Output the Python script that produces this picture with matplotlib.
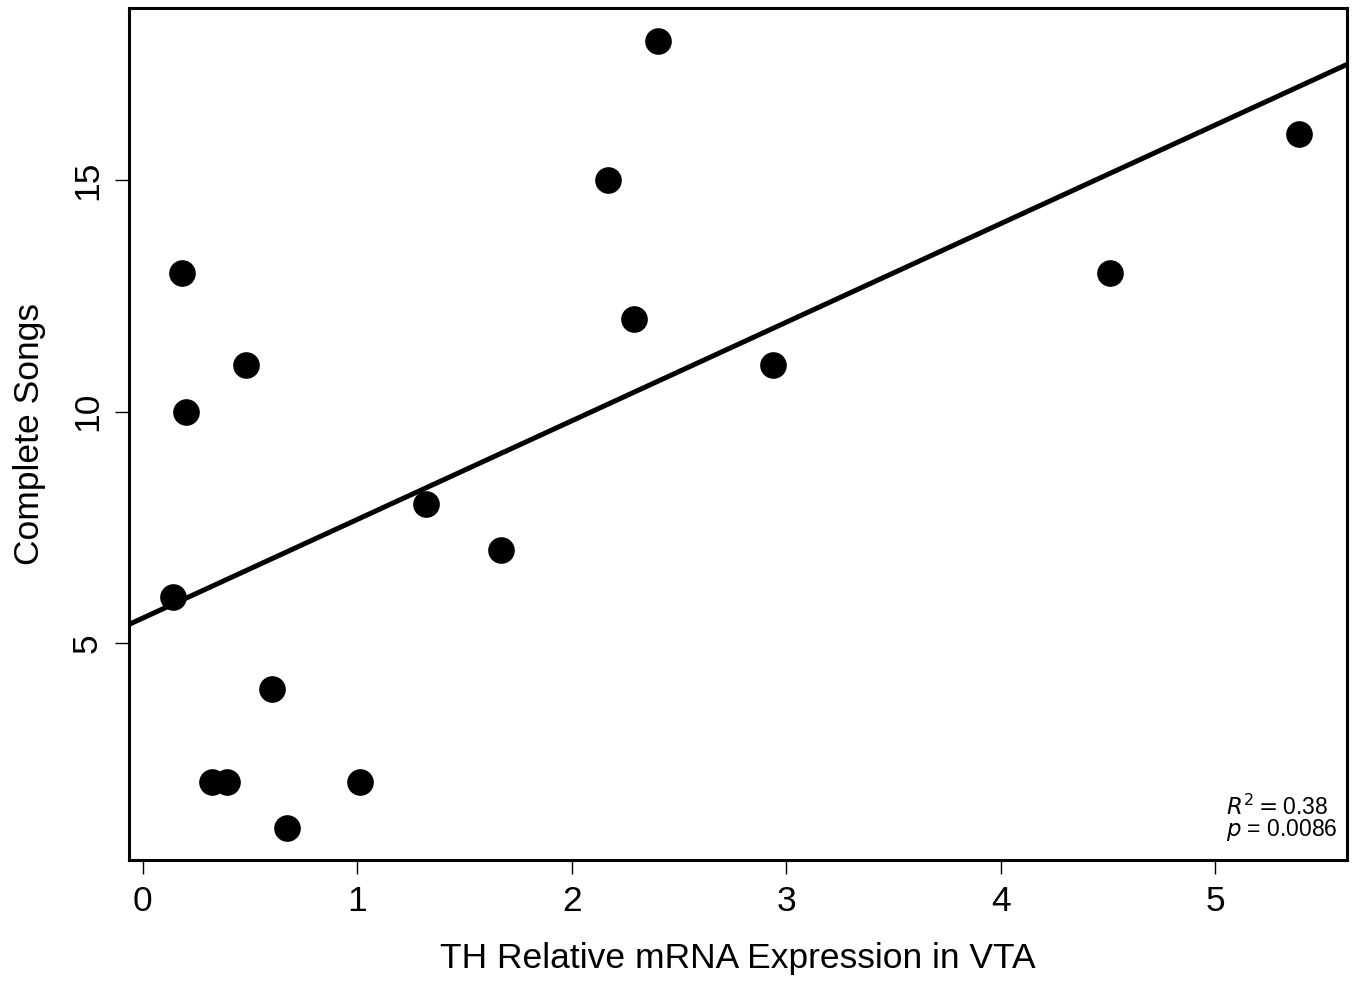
import numpy as np
import matplotlib
matplotlib.use('Agg')
import matplotlib.pyplot as plt

plt.rcParams['font.family'] = ['Liberation Sans', 'DejaVu Sans']

th_expr = [0.14, 0.18, 0.20, 0.32, 0.39, 0.48, 0.60, 0.67, 1.01, 1.32,
           1.67, 2.17, 2.29, 2.40, 2.94, 4.51, 5.39]
songs = [6, 13, 10, 2, 2, 11, 4, 1, 2, 8, 7, 15, 12, 18, 11, 13, 16]

x_ticks = [0, 1, 2, 3, 4, 5]
y_ticks = [5, 10, 15]

fig = plt.figure(figsize=(13.55, 9.82), dpi=100)
ax = fig.add_axes([0.0952, 0.1242, 0.8989, 0.8677])

ax.scatter(th_expr, songs, s=330, color='black', zorder=3)

# least squares line across the whole plot
slope, intercept = np.polyfit(th_expr, songs, 1)
xl = np.array([-0.1, 5.7])
ax.plot(xl, intercept + slope * xl, color='black', lw=3.6, zorder=2)

ax.set_xlim(-0.065, 5.615)
ax.set_ylim(0.31, 18.72)
ax.set_xticks(x_ticks)
ax.set_yticks(y_ticks)
ax.tick_params(direction='out', length=10, width=1, labelsize=25.5, pad=8)
for lab in ax.get_yticklabels():
    lab.set_rotation(90)
    lab.set_va('center')
for sp in ax.spines.values():
    sp.set_linewidth(2.2)

ax.set_xlabel('TH Relative mRNA Expression in VTA', fontsize=25.5, labelpad=17)
ax.set_ylabel('Complete Songs', fontsize=25.5, labelpad=18)

ax.text(0.992, 0.02, '$R^2 = $0.38\n$p$ = 0.0086', transform=ax.transAxes,
        ha='right', va='bottom', multialignment='left', fontsize=16.5,
        linespacing=0.85)

fig.savefig('out.png', dpi=100)
